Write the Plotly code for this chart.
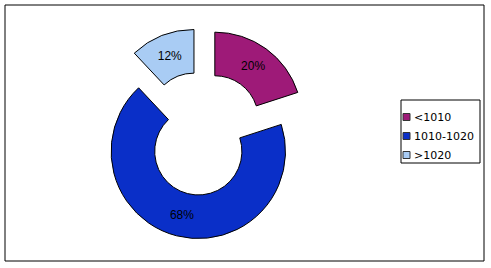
import plotly.graph_objects as go

labels = ["<1010", "1010-1020", ">1020"]
values = [20, 68, 12]
colors = ["#9E1A78", "#0A2FC8", "#A9CCF4"]
pulls = [0.25, 0.17, 0.25]

W, H = 491, 268
FONT = "DejaVu Sans, Liberation Sans, Arial"
PIE_FONT = "Liberation Sans, Arial"

def px(x):
    return x / W

def py(y):
    return 1 - y / H

cx, cy, half = 202, 137, 109

fig = go.Figure(go.Pie(
    labels=labels,
    values=values,
    hole=0.5,
    sort=False,
    direction="clockwise",
    rotation=0,
    pull=pulls,
    marker=dict(colors=colors, line=dict(color="black", width=1)),
    textinfo="percent",
    texttemplate="%{percent:.0%}",
    textposition="inside",
    insidetextorientation="horizontal",
    textfont=dict(family=PIE_FONT, size=12, color="black"),
    domain=dict(x=[px(cx - half), px(cx + half)], y=[py(cy + half), py(cy - half)]),
    showlegend=False,
))

shapes = [
    dict(type="rect", xref="paper", yref="paper",
         x0=px(5), x1=px(484), y0=py(261), y1=py(5),
         line=dict(color="black", width=1)),
    dict(type="rect", xref="paper", yref="paper",
         x0=px(401), x1=px(480), y0=py(163), y1=py(100),
         line=dict(color="black", width=1), fillcolor="white"),
]
annotations = []
item_y = [117, 136, 155]
for lab, col, yy in zip(labels, colors, item_y):
    shapes.append(dict(type="rect", xref="paper", yref="paper",
                       x0=px(403), x1=px(410), y0=py(yy + 3.5), y1=py(yy - 3.5),
                       line=dict(color="#333333", width=1), fillcolor=col))
    annotations.append(dict(xref="paper", yref="paper", x=px(412), y=py(yy),
                            xanchor="left", yanchor="middle", text=lab, showarrow=False,
                            font=dict(family=FONT, size=11, color="black")))

fig.update_layout(
    width=W, height=H,
    margin=dict(l=0, r=0, t=0, b=0),
    paper_bgcolor="white",
    plot_bgcolor="white",
    showlegend=False,
    shapes=shapes,
    annotations=annotations,
)

fig.write_html("out.html")
